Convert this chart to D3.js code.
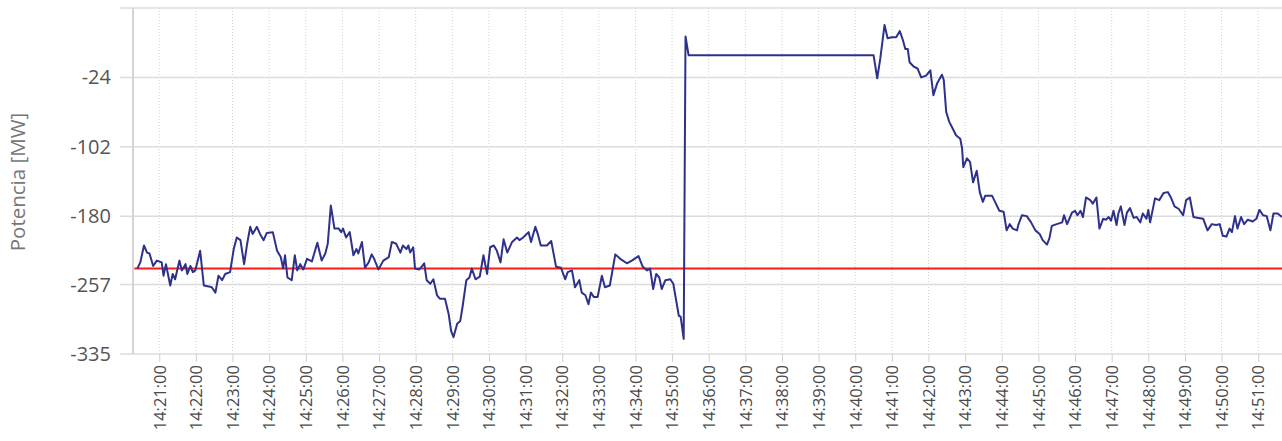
<!DOCTYPE html>
<html>
<head>
<meta charset="utf-8">
<script src="https://cdn.jsdelivr.net/npm/d3@7"></script>
<style>
  body { margin: 0; background: #fff; }
  text { font-family: "Open Sans", sans-serif; }
</style>
</head>
<body>
<svg id="chart" width="1282" height="441"></svg>
<script>
// seconds after 14:20:00, and the power read at that moment (MW)
const startTime = '14:20:00';
const seconds = [
  24, 29, 35, 40, 44, 50, 56, 64, 67, 71,
  78, 82, 86, 93, 97, 103, 106, 111, 115, 119,
  127, 133, 141, 146, 152, 157, 163, 168, 176, 182,
  187, 193, 199, 204, 209, 213, 220, 225, 231, 236,
  246, 253, 259, 263, 266, 270, 277, 282, 286, 291,
  296, 302, 310, 319, 326, 332, 336, 341, 347, 354,
  358, 361, 366, 372, 378, 383, 386, 392, 397, 403,
  408, 412, 419, 427, 436, 441, 448, 455, 459, 465,
  468, 471, 476, 479, 486, 494, 498, 504, 509, 515,
  520, 528, 534, 538, 542, 548, 553, 557, 563, 568,
  572, 578, 585, 591, 597, 602, 608, 613, 619, 624,
  630, 638, 646, 650, 656, 665, 669, 676, 680, 685,
  695, 702, 710, 718, 725, 729, 736, 741, 748, 752,
  758, 763, 767, 772, 778, 785, 790, 798, 807, 815,
  826, 834, 845, 852, 859, 864, 869, 874, 879, 883,
  889, 897, 902, 911, 914, 919, 922, 927, 1230, 1236,
  1241, 1248, 1253, 1260, 1267, 1273, 1278, 1282, 1286, 1289,
  1296, 1302, 1308, 1316, 1323, 1328, 1334, 1342, 1345, 1349,
  1354, 1360, 1365, 1372, 1375, 1377, 1383, 1388, 1393, 1399,
  1404, 1409, 1413, 1424, 1429, 1436, 1443, 1448, 1453, 1458,
  1465, 1467, 1473, 1481, 1488, 1495, 1502, 1507, 1514, 1518,
  1522, 1530, 1539, 1542, 1547, 1555, 1560, 1564, 1569, 1573,
  1578, 1585, 1589, 1595, 1600, 1606, 1611, 1615, 1619, 1623,
  1628, 1631, 1635, 1641, 1645, 1650, 1656, 1661, 1667, 1671,
  1677, 1680, 1683, 1691, 1698, 1705, 1712, 1717, 1723, 1730,
  1737, 1742, 1748, 1754, 1762, 1770, 1777, 1784, 1791, 1797,
  1802, 1808, 1813, 1817, 1822, 1826, 1832, 1837, 1843, 1851,
  1857, 1862, 1868, 1874, 1880, 1885, 1892, 1899
];
const potencia = [
  -239, -232, -213, -221, -222, -236, -230, -232, -247, -234,
  -258, -245, -251, -230, -241, -234, -245, -236, -243, -241,
  -219, -258, -259, -260, -266, -247, -252, -245, -243, -217,
  -204, -207, -234, -211, -192, -200, -192, -200, -207, -199,
  -198, -219, -226, -239, -224, -249, -252, -224, -241, -234,
  -240, -228, -231, -210, -230, -222, -211, -168, -194, -194,
  -198, -194, -204, -198, -224, -217, -222, -209, -238, -232,
  -223, -228, -240, -230, -226, -209, -211, -221, -213, -217,
  -213, -221, -215, -239, -240, -233, -252, -256, -251, -269,
  -273, -273, -290, -309, -316, -301, -298, -281, -252, -249,
  -239, -251, -248, -224, -245, -215, -213, -219, -232, -206,
  -221, -209, -204, -207, -204, -198, -209, -192, -200, -213,
  -213, -208, -237, -238, -251, -243, -241, -260, -252, -266,
  -269, -279, -266, -271, -271, -247, -260, -258, -223, -228,
  -233, -230, -225, -237, -241, -239, -262, -245, -249, -262,
  -252, -251, -256, -292, -293, -318, 22, 1, 1, -25,
  -3, 35, 20, 21, 21, 28, 18, 8, 8, -7,
  -12, -14, -24, -22, -16, -44, -31, -21, -27, -63,
  -74, -82, -89, -93, -104, -125, -115, -119, -142, -129,
  -153, -164, -157, -157, -164, -174, -175, -196, -189, -194,
  -196, -190, -179, -180, -187, -196, -200, -207, -212, -205,
  -191, -189, -187, -179, -189, -176, -174, -179, -174, -181,
  -159, -162, -166, -159, -194, -183, -184, -181, -185, -174,
  -190, -177, -169, -190, -176, -171, -182, -181, -187, -177,
  -183, -173, -187, -160, -162, -154, -153, -159, -169, -172,
  -179, -162, -159, -181, -182, -183, -196, -189, -190, -189,
  -202, -203, -194, -198, -180, -194, -181, -189, -184, -186,
  -183, -173, -179, -180, -196, -177, -177, -181
];
const referencia = -239;
const yTickLabels = [-335, -257, -180, -102, -24];
const yMax = 54;
const xFirst = '14:20:17';
const xLast = '14:51:39';

const parse = d3.timeParse('%H:%M:%S');
const t0 = parse(startTime);
const data = seconds.map((s, i) => ({ t: d3.timeSecond.offset(t0, s), v: potencia[i] }));

const plotLeft = 133, plotRight = 1282, plotTop = 8, plotBottom = 354;
const svg = d3.select('#chart');

const x = d3.scaleTime().domain([parse(xFirst), parse(xLast)]).range([plotLeft, plotRight]);
const y = d3.scaleLinear().domain([yTickLabels[0], yMax]).range([plotBottom, plotTop]);

// vertical dotted minute grid
const minutes = d3.timeMinute.range(d3.timeMinute.ceil(x.domain()[0]), x.domain()[1]);
svg.append('g')
  .selectAll('line')
  .data(minutes)
  .enter()
  .append('line')
  .attr('x1', d => x(d)).attr('x2', d => x(d))
  .attr('y1', plotTop).attr('y2', plotBottom)
  .attr('stroke', '#cfcfcf')
  .attr('stroke-dasharray', '1,2');

// horizontal grid
svg.append('g')
  .selectAll('line')
  .data(yTickLabels.concat([yMax]))
  .enter()
  .append('line')
  .attr('x1', 120).attr('x2', plotRight)
  .attr('y1', d => y(d)).attr('y2', d => y(d))
  .attr('stroke', '#dcdcdc')
  .attr('stroke-width', 1.5);

// y axis
const yAxis = svg.append('g')
  .attr('transform', `translate(${plotLeft},0)`)
  .call(d3.axisLeft(y).tickValues(yTickLabels).tickFormat(d => String(d)).tickSize(0).tickPadding(22));
yAxis.select('.domain').remove();
yAxis.selectAll('text')
  .attr('font-size', 20)
  .attr('fill', '#555')
  .style('font-family', '"Open Sans", sans-serif');

svg.append('line')
  .attr('x1', plotLeft).attr('x2', plotLeft)
  .attr('y1', plotTop).attr('y2', plotBottom)
  .attr('stroke', '#d4d4d4')
  .attr('stroke-width', 2);

// x axis
const xAxis = svg.append('g')
  .attr('transform', `translate(0,${plotBottom})`)
  .call(d3.axisBottom(x).tickValues(minutes).tickFormat(d3.timeFormat('%H:%M:%S')).tickSize(8));
xAxis.select('.domain').remove();
xAxis.selectAll('line').attr('stroke', '#cfcfcf');
xAxis.selectAll('text')
  .attr('font-size', 16.5)
  .attr('fill', '#4a4a4a')
  .style('font-family', '"Open Sans", sans-serif')
  .attr('text-anchor', 'end')
  .attr('transform', 'rotate(-90)')
  .attr('x', -11)
  .attr('y', 0)
  .attr('dy', '0.35em');

svg.append('text')
  .attr('transform', `translate(25,182) rotate(-90)`)
  .attr('text-anchor', 'middle')
  .attr('font-size', 20.5)
  .attr('fill', '#777')
  .text('Potencia [MW]');

// reference line
svg.append('line')
  .attr('x1', x(data[0].t) - 3).attr('x2', plotRight)
  .attr('y1', y(referencia)).attr('y2', y(referencia))
  .attr('stroke', '#ff1a1a')
  .attr('stroke-width', 2);

// power series
const line = d3.line().x(d => x(d.t)).y(d => y(d.v));
svg.append('path')
  .datum(data)
  .attr('d', line)
  .attr('fill', 'none')
  .attr('stroke', '#2e3189')
  .attr('stroke-width', 2)
  .attr('stroke-linejoin', 'round');
</script>
</body>
</html>
